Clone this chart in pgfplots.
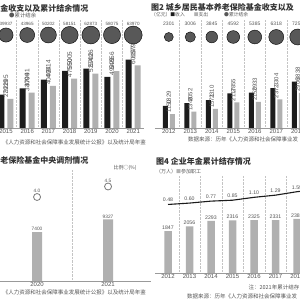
\documentclass[border=0pt]{standalone}
\usepackage{pgfplots}
\usepackage{pgfplotstable}
\pgfplotsset{compat=1.18}
\usepackage{fontspec}
\setmainfont{Liberation Sans}
\newfontfamily\cjk{Noto Sans CJK SC}
\newcommand\fs[1]{\fontsize{#1}{#1}\selectfont}
\definecolor{barblack}{HTML}{1C1C1C}
\definecolor{bargray}{HTML}{B0B0B0}
\definecolor{circc}{HTML}{585858}
\definecolor{txt}{HTML}{555555}
\definecolor{titlec}{HTML}{333333}
\definecolor{gridc}{HTML}{C4C4C4}
\definecolor{basec}{HTML}{9A9A9A}

\pgfplotsset{
  panel/.style={anchor=south west, scale only axis, clip=false,
    axis y line=none, axis x line*=bottom,
    x axis line style={draw=basec, line width=0.5pt, -},
    major tick length=0pt, minor tick length=0pt,
    xminorgrids, minor x grid style={densely dotted, draw=gridc, line width=0.5pt},
    xticklabel style={font=\fs{6}, text=txt, inner sep=1pt},
    ymin=0},
  over/.style={anchor=south west, scale only axis, clip=false, hide axis},
}

% Panel 1: total basic pension fund
\pgfplotstableread{
x inc exp cy r ly lab
0 32195 27929 89400 7.10 100000 39937
1 37991 34004 89400 7.46 100000 43965
2 46614 40424 89400 7.98 100000 50202
3 55005 47550 89400 8.58 100000 58151
4 57026 52342 89400 8.92 100000 62873
5 49229 54656 89400 8.58 100000 58075
6 65793 60197 89400 9.00 100000 63970
}\tA
% Panel 2: urban-rural residents pension fund
\pgfplotstableread{
x inc exp cy r ly lab
0 1829 1150 7521 4.53 8595 2301
1 2052 1348 7521 5.17 8595 3006
2 2310 1571 7521 5.85 8595 3845
3 2855 2117 7521 6.39 8595 4592
4 2933 2150 7521 6.92 8595 5385
5 3304 2372 7521 7.50 8595 6318
6 3838 2906 7521 8.03 8595 7250
}\tB
% Panel 3: central adjustment
\pgfplotstableread{
x v r
0 7400 4.0
1 9327 4.5
}\tC
% Panel 4: enterprise annuity
\pgfplotstableread{
x v
0 1847
1 2056
2 2293
3 2316
4 2325
5 2331
6 2388
}\tD
\pgfplotstableread{
x v lab
0 0.48 0.48
1 0.60 0.60
2 0.77 0.77
3 0.85 0.85
4 1.10 1.10
5 1.29 1.29
6 1.59 1.59
7 1.80 {}
}\tE

\begin{document}
\begin{tikzpicture}
\useasboundingbox (0,0) rectangle (300pt,300pt);
\clip (0,0) rectangle (300pt,300pt);
\fill[white] (0,0) rectangle (300pt,300pt);

% ---------- Panel 1 ----------
\node[anchor=east, inner sep=0pt, text=titlec] at (88.5pt,292pt) {\cjk\bfseries\fs{8}金收支以及累计结余情况};
\node[anchor=west, inner sep=0pt, text=txt] at (9pt,285pt) {\cjk\fs{5.4}{\color{circc}●}累计结余};
\node[anchor=east, inner sep=0pt, text=txt] at (146pt,158pt) {\cjk\fs{5.5}《人力资源和社会保障事业发展统计公报》以及统计局年鉴};
\begin{axis}[panel, at={(-4.6pt,172pt)}, width=148.4pt, height=108pt,
  xmin=-0.5, xmax=6.5, ymax=103846,
  xtick={0,...,6}, xticklabels={2015,2016,2017,2018,2019,2020,2021},
  minor xtick={0.5,1.5,...,5.5}]
\addplot[ybar, bar width=6pt, bar shift=-4.5pt, fill=barblack, draw=none,
  nodes near coords, point meta=explicit symbolic,
  every node near coord/.append style={rotate=90, anchor=west, font=\fs{6.5}, text=txt, inner sep=1pt}]
  table[x=x, y=inc, meta=inc] {\tA};
\addplot[ybar, bar width=6pt, bar shift=4.5pt, fill=bargray, draw=none,
  nodes near coords, point meta=explicit symbolic,
  every node near coord/.append style={rotate=90, anchor=west, font=\fs{6.5}, text=txt, inner sep=1pt}]
  table[x=x, y=exp, meta=exp] {\tA};
\addplot[scatter, only marks, mark=*, scatter/use mapped color={draw=none, fill=circc},
  visualization depends on={\thisrow{r} \as \rr},
  scatter/@pre marker code/.append style={/tikz/mark size=\rr}]
  table[x=x, y=cy] {\tA};
\addplot[draw=none, nodes near coords, point meta=explicit symbolic,
  every node near coord/.append style={anchor=center, font=\fs{4.6}, text=txt}]
  table[x=x, y=ly, meta=lab] {\tA};
\end{axis}

% ---------- Panel 2 ----------
\node[anchor=west, inner sep=0pt, text=titlec] at (151pt,293pt) {\cjk\bfseries\fs{8}图2 城乡居民基本养老保险基金收支以及};
\node[anchor=west, inner sep=0pt, text=txt] at (151pt,285pt) {\cjk\fs{4.8}（亿元）{\color{barblack}■}收入\hspace{9pt}{\color{bargray}■}支出\hspace{16pt}{\color{circc}●}累计结余};
\node[anchor=west, inner sep=0pt, text=txt] at (188pt,161pt) {\cjk\fs{5.5}数据来源：历年《人力资源和社会保障事业发};
\begin{axis}[panel, at={(154.8pt,172pt)}, width=153.7pt, height=108pt,
  xmin=-0.65, xmax=6.5, ymax=8926,
  xtick={0,...,6}, xticklabels={2012,2013,2014,2015,2016,2017,2018},
  minor xtick={0.5,1.5,...,5.5}]
\addplot[ybar, bar width=5pt, bar shift=-3.5pt, fill=barblack, draw=none,
  nodes near coords, point meta=explicit symbolic,
  every node near coord/.append style={rotate=90, anchor=west, font=\fs{6}, text=txt, inner sep=1pt}]
  table[x=x, y=inc, meta=inc] {\tB};
\addplot[ybar, bar width=5pt, bar shift=3.5pt, fill=bargray, draw=none,
  nodes near coords, point meta=explicit symbolic,
  every node near coord/.append style={rotate=90, anchor=west, font=\fs{6}, text=txt, inner sep=1pt}]
  table[x=x, y=exp, meta=exp] {\tB};
\addplot[scatter, only marks, mark=*, scatter/use mapped color={draw=none, fill=circc},
  visualization depends on={\thisrow{r} \as \rr},
  scatter/@pre marker code/.append style={/tikz/mark size=\rr}]
  table[x=x, y=cy] {\tB};
\addplot[draw=none, nodes near coords, point meta=explicit symbolic,
  every node near coord/.append style={anchor=center, font=\fs{5}, text=txt}]
  table[x=x, y=ly, meta=lab] {\tB};
\end{axis}

% ---------- Panel 3 ----------
\node[anchor=east, inner sep=0pt, text=titlec] at (88.5pt,140pt) {\cjk\bfseries\fs{8}老保险基金中央调剂情况};
\node[anchor=center, inner sep=0pt, text=txt] at (125pt,132pt) {\cjk\fs{5}比例○(\%)};
\node[anchor=east, inner sep=0pt, text=txt] at (146pt,8pt) {\cjk\fs{5.5}《人力资源和社会保障事业发展统计公报》以及统计局年鉴};
\begin{axis}[panel, at={(-2pt,19pt)}, width=152.65pt, height=111pt,
  xmin=-0.55, xmax=1.6, ymax=16818,
  xtick={0,1}, xticklabels={2020,2021}, minor xtick={0.5}]
\addplot[ybar, bar width=10pt, fill=bargray, draw=none,
  nodes near coords, point meta=explicit symbolic,
  every node near coord/.append style={anchor=south, font=\fs{4.8}, text=txt, inner sep=1pt}]
  table[x=x, y=v, meta=v] {\tC};
\end{axis}
\begin{axis}[over, at={(-2pt,19pt)}, width=152.65pt, height=111pt,
  xmin=-0.55, xmax=1.6, ymin=0, ymax=5.286]
\addplot[only marks, mark=*, mark size=3.5pt,
  mark options={line width=0.8pt, draw=circc!80, fill=white},
  nodes near coords, point meta=explicit symbolic,
  every node near coord/.append style={anchor=south, yshift=3.5pt, font=\fs{4.8}, text=txt, inner sep=0.5pt}]
  table[x=x, y=r, meta=r] {\tC};
\end{axis}

% ---------- Panel 4 ----------
\node[anchor=west, inner sep=0pt, text=titlec] at (156pt,139pt) {\cjk\bfseries\fs{8}图4 企业年金累计结存情况};
\node[anchor=west, inner sep=0pt, text=txt] at (156pt,128pt) {\cjk\fs{5}（万人）{\color{bargray}■}参加职工};
\node[anchor=east, inner sep=0pt, text=txt] at (299.5pt,13pt) {\cjk\fs{5.5}注：2021年累计结存};
\node[anchor=west, inner sep=0pt, text=txt] at (187pt,4pt) {\cjk\fs{5.5}数据来源：历年《人力资源和社会保障事业发};
\begin{axis}[panel, at={(155.1pt,27pt)}, width=154.8pt, height=97pt,
  xmin=-0.6, xmax=6.6, ymax=4273,
  xtick={0,...,6}, xticklabels={2012,2013,2014,2015,2016,2017,2018},
  minor xtick={0.5,1.5,...,5.5}]
\addplot[ybar, bar width=7.5pt, fill=bargray, draw=none,
  nodes near coords, point meta=explicit symbolic,
  every node near coord/.append style={anchor=south, font=\fs{5.2}, text=txt, inner sep=1.5pt}]
  table[x=x, y=v, meta=v] {\tD};
\end{axis}
\begin{axis}[over, at={(155.1pt,27pt)}, width=154.8pt, height=97pt,
  xmin=-0.6, xmax=6.6, ymin=-5.48, ymax=2.955]
\addplot[barblack, line width=1.1pt, mark=none,
  nodes near coords, point meta=explicit symbolic,
  every node near coord/.append style={anchor=south, yshift=1.5pt, font=\fs{5.2}, text=txt, inner sep=0.5pt}]
  table[x=x, y=v, meta=lab] {\tE};
\end{axis}
\end{tikzpicture}
\end{document}
